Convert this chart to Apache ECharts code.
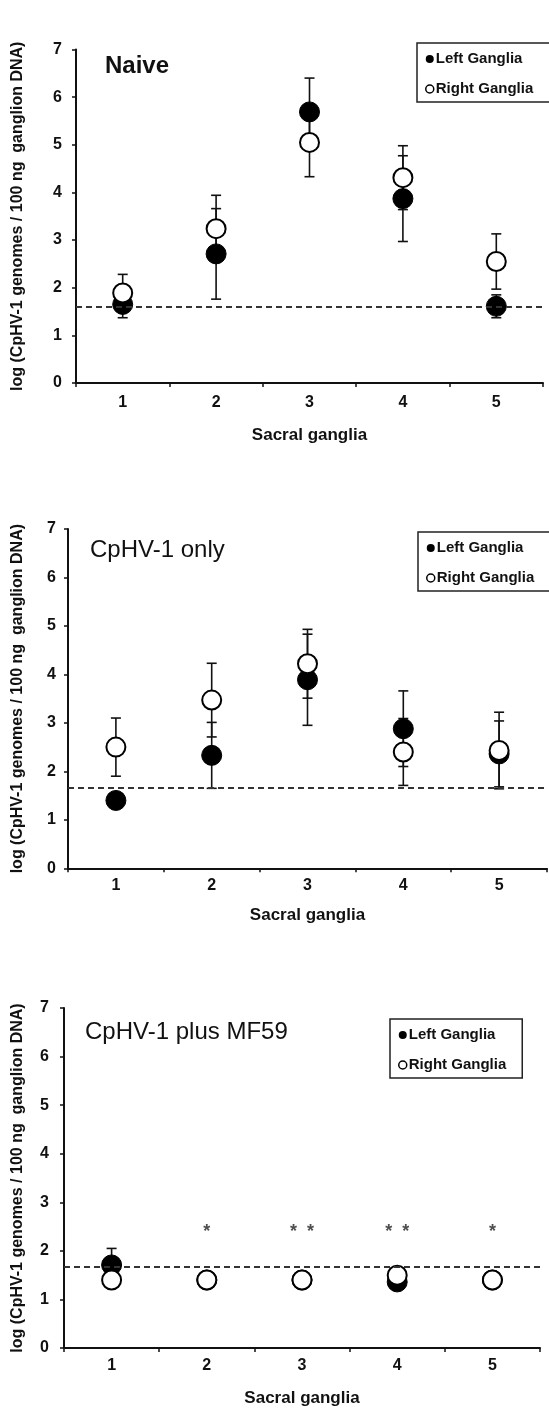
<!DOCTYPE html>
<html>
<head>
<meta charset="utf-8">
<script src="https://cdn.jsdelivr.net/npm/echarts@6/dist/echarts.min.js"></script>
<style>
  html, body { margin: 0; padding: 0; background: #fff; }
  #chart { width: 549px; height: 1408px; }
</style>
</head>
<body>
<div id="chart"></div>
<script>
  // sacral ganglia 1..5
  var categories = ['1', '2', '3', '4', '5'];
  var yMin = 0, yMax = 7, yStep = 1;

  // Naive
  var naiveLeft = [1.65, 2.71, 5.69, 3.87, 1.61];
  var naiveLeftErr = [0.28, 0.95, 0.71, 0.90, 0.24];
  var naiveRight = [1.89, 3.24, 5.05, 4.31, 2.55];
  var naiveRightErr = [0.39, 0.70, 0.72, 0.67, 0.58];
  var naiveCutoff = 1.61;

  // CpHV-1 only
  var onlyLeft = [1.40, 2.33, 3.89, 2.88, 2.36];
  var onlyLeftErr = [0, 0.68, 0.94, 0.78, 0.68];
  var onlyRight = [2.50, 3.47, 4.22, 2.40, 2.43];
  var onlyRightErr = [0.60, 0.76, 0.71, 0.69, 0.79];
  var onlyCutoff = 1.66;

  // CpHV-1 plus MF59
  var mf59Left = [1.71, 1.40, 1.40, 1.36, 1.40];
  var mf59LeftErr = [0.34, 0, 0, 0, 0];
  var mf59Right = [1.40, 1.40, 1.40, 1.50, 1.40];
  var mf59RightErr = [0, 0, 0, 0, 0];
  var mf59Cutoff = 1.68;
  var mf59Stars = ['', '*', '*  *', '*  *', '*'];
  var mf59StarLevel = 2.46;

  var FONT = '"Liberation Sans", Arial, sans-serif';
  var yName = 'log (CpHV-1 genomes / 100 ng  ganglion DNA)';

  var panels = [
    {title: 'Naive', bold: true, left: naiveLeft, leftErr: naiveLeftErr, right: naiveRight, rightErr: naiveRightErr, cutoff: naiveCutoff,
      grid: {left: 76, right: 6, top: 49.5, height: 333.5}, yLabelMargin: 14, yNameGap: 50, xLabelMargin: 12, xNameGap: 44,
      titlePos: {left: 105, top: 54}, legendPos: {left: 417, top: 43, padding: [8, 40, 5, 8]}},
    {title: 'CpHV-1 only', bold: false, left: onlyLeft, leftErr: onlyLeftErr, right: onlyRight, rightErr: onlyRightErr, cutoff: onlyCutoff,
      grid: {left: 68, right: 2, top: 529, height: 339.3}, yLabelMargin: 12, yNameGap: 42, xLabelMargin: 9, xNameGap: 39,
      titlePos: {left: 90, top: 538}, legendPos: {left: 418, top: 532, padding: [8, 40, 5, 8]}},
    {title: 'CpHV-1 plus MF59', bold: false, left: mf59Left, leftErr: mf59LeftErr, right: mf59Right, rightErr: mf59RightErr, cutoff: mf59Cutoff,
      grid: {left: 64, right: 9, top: 1008, height: 340.3}, yLabelMargin: 15, yNameGap: 38, xLabelMargin: 10, xNameGap: 42,
      titlePos: {left: 85, top: 1020}, legendPos: {left: 390, top: 1019, padding: [8, 16, 5, 8]}, stars: mf59Stars}
  ];

  function errData(vals, errs) {
    var out = [];
    vals.forEach(function (v, i) {
      if (errs[i] > 0) out.push([i, v - errs[i], v + errs[i]]);
    });
    return out;
  }

  function renderErr(params, api) {
    var lo = api.coord([api.value(0), api.value(1)]);
    var hi = api.coord([api.value(0), api.value(2)]);
    var w = 5;
    var style = {stroke: '#111', lineWidth: 1.6};
    return {
      type: 'group',
      children: [
        {type: 'line', shape: {x1: lo[0], y1: lo[1], x2: hi[0], y2: hi[1]}, style: style},
        {type: 'line', shape: {x1: lo[0] - w, y1: lo[1], x2: lo[0] + w, y2: lo[1]}, style: style},
        {type: 'line', shape: {x1: hi[0] - w, y1: hi[1], x2: hi[0] + w, y2: hi[1]}, style: style}
      ]
    };
  }

  var option = {
    backgroundColor: '#fff',
    animation: false,
    textStyle: {fontFamily: FONT, color: '#000'},
    title: [], grid: [], xAxis: [], yAxis: [], legend: [], series: []
  };

  panels.forEach(function (p, k) {
    option.grid.push(p.grid);
    option.title.push({
      text: p.title, left: p.titlePos.left, top: p.titlePos.top, padding: 0,
      textStyle: {fontFamily: FONT, fontSize: 24, fontWeight: p.bold ? 'bold' : 'normal', color: '#111'}
    });
    option.xAxis.push({
      type: 'category', gridIndex: k, data: categories, boundaryGap: true,
      name: 'Sacral ganglia', nameLocation: 'middle', nameGap: p.xNameGap,
      nameTextStyle: {fontFamily: FONT, fontSize: 17, fontWeight: 'bold', color: '#111'},
      axisLine: {lineStyle: {color: '#111', width: 2}},
      axisTick: {show: true, interval: 0, length: 4, lineStyle: {color: '#111', width: 1.5}},
      axisLabel: {margin: p.xLabelMargin, fontFamily: FONT, fontSize: 16, fontWeight: 'bold', color: '#111'},
      splitLine: {show: false}
    });
    option.yAxis.push({
      type: 'value', gridIndex: k, min: yMin, max: yMax, interval: yStep,
      name: yName, nameLocation: 'middle', nameGap: p.yNameGap,
      nameTextStyle: {fontFamily: FONT, fontSize: 16, fontWeight: 'bold', color: '#111'},
      axisLine: {show: true, lineStyle: {color: '#111', width: 2}},
      axisTick: {show: true, length: 4, lineStyle: {color: '#111', width: 1.5}},
      axisLabel: {margin: p.yLabelMargin, fontFamily: FONT, fontSize: 16, fontWeight: 'bold', color: '#111'},
      splitLine: {show: false}
    });
    option.legend.push({
      orient: 'vertical', left: p.legendPos.left, top: p.legendPos.top, padding: p.legendPos.padding,
      borderColor: '#222', borderWidth: 1.5, itemWidth: 8, itemHeight: 8, itemGap: 14,
      selectedMode: false,
      textStyle: {fontFamily: FONT, fontSize: 15, fontWeight: 'bold', color: '#111', lineHeight: 16, padding: [0, 0, 0, -3]},
      data: [
        {name: 'Left Ganglia', icon: 'circle', itemStyle: {color: '#000', borderWidth: 0}},
        {name: 'Right Ganglia', icon: 'circle', itemStyle: {color: '#fff', borderColor: '#000', borderWidth: 1.5}}
      ]
    });

    option.series.push({
      type: 'custom', name: 'errLeft' + k, xAxisIndex: k, yAxisIndex: k, z: 1,
      renderItem: renderErr, data: errData(p.left, p.leftErr)
    });
    option.series.push({
      type: 'custom', name: 'errRight' + k, xAxisIndex: k, yAxisIndex: k, z: 1,
      renderItem: renderErr, data: errData(p.right, p.rightErr)
    });
    option.series.push({
      type: 'scatter', name: 'Left Ganglia', xAxisIndex: k, yAxisIndex: k, z: 3,
      symbol: 'circle', symbolSize: 20,
      itemStyle: {color: '#000', borderColor: '#000', borderWidth: 1, opacity: 1},
      data: p.left.map(function (v, i) { return [i, v]; }),
      markLine: {
        silent: true, symbol: 'none', label: {show: false},
        lineStyle: {color: '#333', width: 2, type: [6, 4]},
        data: [{yAxis: p.cutoff}]
      }
    });
    option.series.push({
      type: 'scatter', name: 'Right Ganglia', xAxisIndex: k, yAxisIndex: k, z: 4,
      symbol: 'circle', symbolSize: 19,
      itemStyle: {color: '#fff', borderColor: '#000', borderWidth: 2, opacity: 1},
      data: p.right.map(function (v, i) { return [i, v]; })
    });
    if (p.stars) {
      option.series.push({
        type: 'scatter', name: 'stars', xAxisIndex: k, yAxisIndex: k, z: 5,
        symbolSize: 0, silent: true,
        label: {
          show: true, position: 'inside', offset: [0, 4],
          fontFamily: FONT, fontSize: 18, fontWeight: 'bold', color: '#222',
          formatter: function (q) { return p.stars[q.dataIndex]; }
        },
        data: p.stars.map(function (s, i) { return [i, mf59StarLevel]; })
      });
    }
  });

  var chart = echarts.init(document.getElementById('chart'), null, {renderer: 'canvas'});
  chart.setOption(option);
</script>
</body>
</html>
